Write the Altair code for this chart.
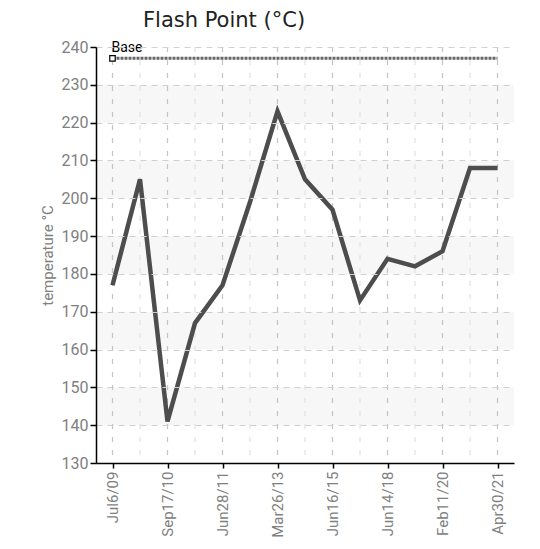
import altair as alt
import pandas as pd

x_labels = ["Jul6/09", "", "Sep17/10", "", "Jun28/11", "", "Mar26/13", "",
            "Jun16/15", "", "Jun14/18", "", "Feb11/20", "", "Apr30/21"]
values = [177, 205, 141, 167, 177, 199, 223, 205, 197, 173, 184, 182, 186, 208, 208]
base_value = 237
band_starts = [140, 160, 180, 200, 220]

W, H = 418, 416
FONT = "Roboto"

idx = list(range(len(values)))
df = pd.DataFrame({"i": idx, "v": values, "base": [base_value] * len(values),
                   "major": [i % 2 == 0 for i in idx]})
bands = pd.DataFrame({"y0": band_starts, "y1": [b + 10 for b in band_starts]})

xs = alt.Scale(domain=[-0.6, 14.6], nice=False, zero=False)
ys = alt.Scale(domain=[130, 240], nice=False, zero=False)

label_arr = "[" + ",".join('"%s"' % s for s in x_labels) + "]"

x_axis = alt.Axis(title=None, values=list(range(0, 15, 2)), grid=False,
                  labelExpr=label_arr + "[datum.value]",
                  labelAngle=-90, labelAlign="right", labelBaseline="middle",
                  labelColor="#808080", labelFont=FONT, labelFontSize=15,
                  labelPadding=3, labelOverlap=False, zindex=2,
                  domainColor="#000", tickColor="#000", tickSize=5)
y_axis = alt.Axis(title="temperature °C", values=list(range(130, 241, 10)),
                  tickCount=12,
                  grid=True, gridDash=[6, 5], gridColor="#d0d0d0",
                  domainColor="#000", tickColor="#000", tickSize=6,
                  labelColor="#808080", labelFont=FONT, labelFontSize=16,
                  labelPadding=2, labelOverlap=False, zindex=2,
                  titleColor="#808080", titleFont=FONT, titleFontSize=15,
                  titleFontWeight="normal", titlePadding=6)

band_layer = alt.Chart(bands).mark_rect(color="#f7f7f7").encode(
    x=alt.value(0), x2=alt.value(W),
    y=alt.Y("y0:Q", scale=ys, axis=y_axis),
    y2="y1:Q",
)

vgrid = alt.Chart(df).mark_rule(strokeDash=[5, 8], strokeWidth=1.2).encode(
    x=alt.X("i:Q", scale=xs, axis=x_axis),
    y=alt.value(0), y2=alt.value(H),
    color=alt.condition("datum.major", alt.value("#c4c4c4"), alt.value("#e2e2e2")),
)

base_line = alt.Chart(df).mark_line(color="#666666", strokeWidth=3, strokeDash=[3, 1]).encode(
    x=alt.X("i:Q", scale=xs, axis=x_axis),
    y=alt.Y("base:Q", scale=ys, axis=y_axis),
)

base_pt = alt.Chart(df[df["i"] == 0]).mark_point(shape="square", size=30, filled=True,
                                                fill="white", stroke="#000", strokeWidth=1.2,
                                                opacity=1).encode(
    x=alt.X("i:Q", scale=xs, axis=x_axis),
    y=alt.Y("base:Q", scale=ys, axis=y_axis),
)

base_text = alt.Chart(df[df["i"] == 0]).mark_text(text="Base", align="left", baseline="bottom",
                                                 dx=-1, dy=-3, font=FONT, fontSize=14,
                                                 color="#000").encode(
    x=alt.X("i:Q", scale=xs, axis=x_axis),
    y=alt.Y("base:Q", scale=ys, axis=y_axis),
)

main_line = alt.Chart(df).mark_line(color="#4d4d4d", strokeWidth=4.5).encode(
    x=alt.X("i:Q", scale=xs, axis=x_axis),
    y=alt.Y("v:Q", scale=ys, axis=y_axis),
)

chart = alt.layer(band_layer, vgrid, base_line, main_line, base_pt, base_text).properties(
    width=W, height=H,
    title=alt.TitleParams("Flash Point (°C)", anchor="start", frame="group", dx=47, offset=8,
                          font="DejaVu Sans", fontSize=21, fontWeight="normal", color="#222"),
    padding={"left": 88, "top": 39, "right": 18, "bottom": 86},
    autosize=alt.AutoSizeParams(type="none"),
).configure_view(stroke=None).configure_axis(domainWidth=1.5, tickWidth=1.5)

chart.save("out.html", embed_options={"renderer": "svg", "actions": False})
